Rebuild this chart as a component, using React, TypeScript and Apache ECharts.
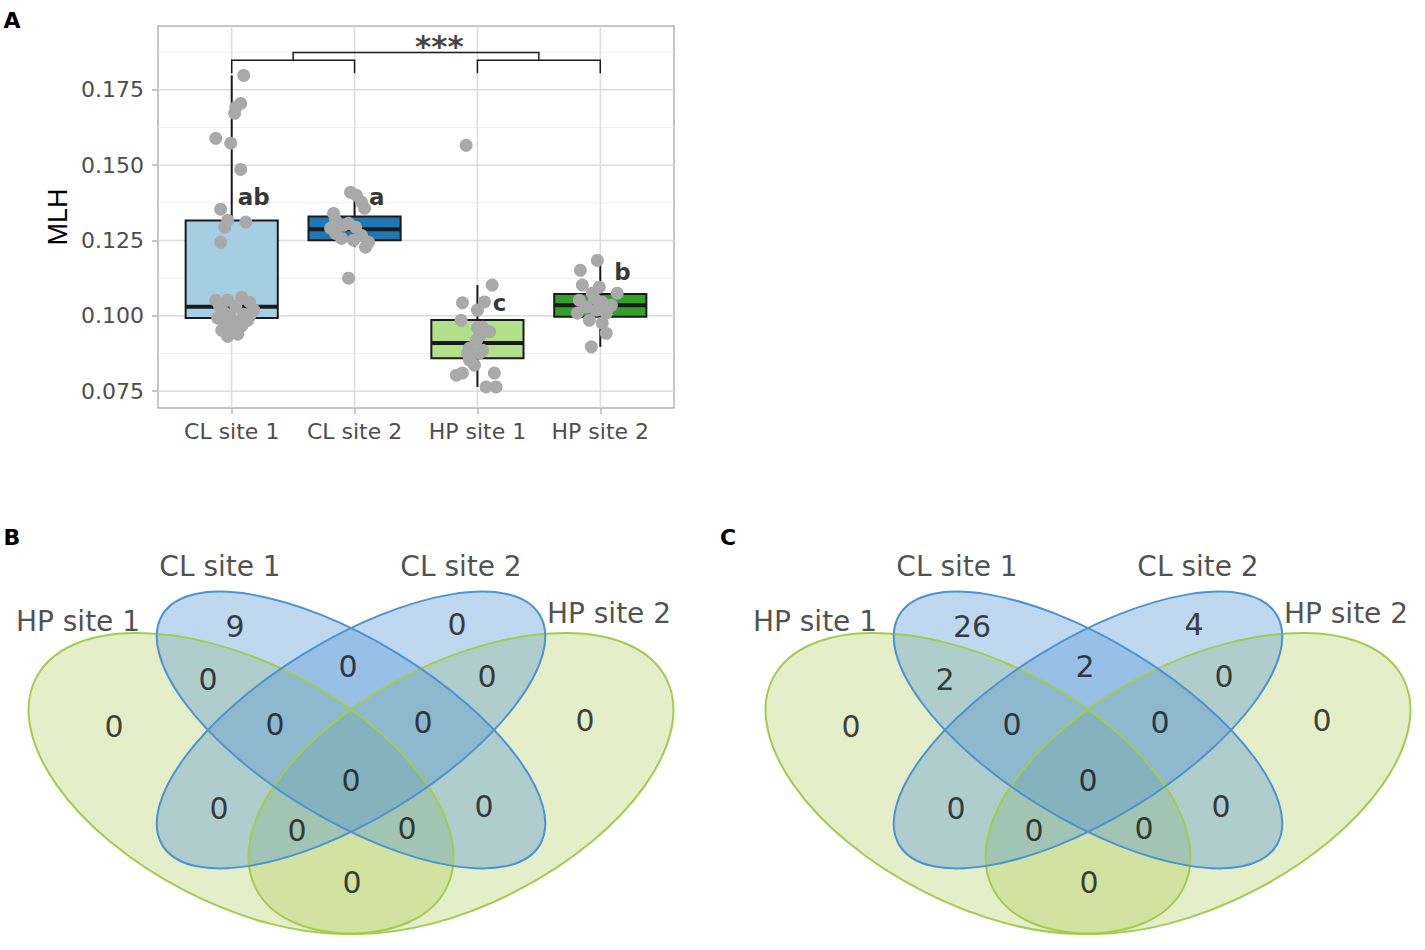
import React, { useEffect, useRef } from "react";
import * as echarts from "echarts";

// ---------- Panel A data ----------
const categories = ["CL site 1", "CL site 2", "HP site 1", "HP site 2"];
const xTickValues = [1, 2, 3, 4];
const yTicks = [0.075, 0.1, 0.125, 0.15, 0.175];
const yMinorTicks = [0.0875, 0.1125, 0.1375, 0.1625, 0.1875];
const boxColors = ["#a6cee3", "#1f78b4", "#b2df8a", "#33a02c"];
// [min, Q1, median, Q3, max]
const boxCL1 = [0.0932, 0.0993, 0.103, 0.1316, 0.1798];
const boxCL2 = [0.1228, 0.1251, 0.1287, 0.133, 0.141];
const boxHP1 = [0.0764, 0.0859, 0.091, 0.0986, 0.1102];
const boxHP2 = [0.0897, 0.0997, 0.1035, 0.1072, 0.1184];

const ptsCL1 = [
  [1.098, 0.1798], [1.073, 0.1705], [1.033, 0.1692], [1.024, 0.1672], [0.87, 0.1589], [0.992, 0.1573],
  [1.073, 0.1486], [0.91, 0.1354], [0.967, 0.1317], [1.114, 0.1311], [0.943, 0.1294], [0.91, 0.1244],
  [1.081, 0.1062], [0.967, 0.1052], [1.146, 0.1045], [0.902, 0.1032], [1.033, 0.1032], [1.179, 0.1019],
  [0.935, 0.1012], [1.098, 0.1005], [0.984, 0.0999], [0.886, 0.0992], [1.13, 0.0985], [1.033, 0.0979],
  [0.951, 0.0969], [1.081, 0.0966], [1.0, 0.0952], [0.919, 0.0952], [1.049, 0.0939], [0.967, 0.0932],
  [1.146, 0.0999], [0.87, 0.1052],
];
const ptsCL2 = [
  [1.967, 0.141], [2.016, 0.14], [2.081, 0.1357], [2.057, 0.1377], [1.829, 0.134], [1.845, 0.1317],
  [1.951, 0.1307], [1.805, 0.1291], [2.008, 0.1294], [1.845, 0.1274], [2.057, 0.1267], [2.114, 0.1244],
  [2.089, 0.1228], [1.894, 0.1257], [1.951, 0.1125], [1.91, 0.1301], [1.992, 0.1251],
];
const ptsHP1 = [
  [2.908, 0.1566], [3.12, 0.1102], [2.878, 0.1043], [3.057, 0.1046], [2.867, 0.0985], [3.0, 0.1019],
  [3.041, 0.0962], [3.098, 0.0947], [2.992, 0.0919], [2.935, 0.0893], [3.016, 0.0876], [2.935, 0.0853],
  [2.976, 0.0836], [2.829, 0.0803], [2.878, 0.081], [3.138, 0.081], [3.071, 0.0764], [3.152, 0.0764],
  [2.919, 0.0876], [3.041, 0.0886], [3.0, 0.096], [3.02, 0.0935],
];
const ptsHP2 = [
  [3.976, 0.1184], [3.838, 0.1151], [3.854, 0.1102], [3.992, 0.1095], [3.935, 0.1075], [4.138, 0.1075],
  [3.829, 0.1052], [4.016, 0.1045], [3.886, 0.1029], [3.967, 0.1019], [4.049, 0.1009], [3.813, 0.1009],
  [3.911, 0.0985], [4.016, 0.0976], [4.049, 0.0942], [3.927, 0.0897], [4.057, 0.1029], [3.951, 0.1058],
  [4.09, 0.1035],
];

const groupLetters = ["ab", "a", "c", "b"];
const letterPos = [[1.18, 0.1394], [2.18, 0.1394], [3.18, 0.1042], [4.18, 0.1145]];
// [x1, x2, yBar, yLegEnd]
const brackets = [[1, 2, 0.1848, 0.1805], [3, 4, 0.1848, 0.1805], [1.5, 3.5, 0.1874, 0.1848]];
const sigLabel = "***";
const sigPos = [2.69, 0.1894];

// ---------- Venn data ----------
const setNames = ["HP site 1", "CL site 1", "CL site 2", "HP site 2"];
const regionNames = [
  "HP1", "CL1", "CL2", "HP2", "HP1∩CL1", "CL1∩CL2", "CL2∩HP2", "HP1∩CL1∩CL2", "CL1∩CL2∩HP2",
  "HP1∩CL1∩CL2∩HP2", "HP1∩CL2", "CL1∩HP2", "HP1∩CL2∩HP2", "HP1∩CL1∩HP2", "HP1∩HP2",
];
const countsB = [0, 9, 0, 0, 0, 0, 0, 0, 0, 0, 0, 0, 0, 0, 0];
const countsC = [0, 26, 4, 0, 2, 2, 0, 0, 0, 0, 0, 0, 0, 0, 0];

// ---------- Venn layout (pixels, panel B frame) ----------
const vennOffsets = [0, 737];
const regionPos = [
  [114, 726], [235, 626], [457, 624], [585, 720], [208, 679], [348, 666], [487, 676], [275, 724],
  [423, 722], [351, 780], [219, 808], [484, 806], [297, 830], [407, 828], [352, 882],
];
const setLabelPos = [[78, 621], [220, 566], [461, 566], [609, 613]];
// cx, cy, rx, ry, rotation(deg), kind (0 green, 1 blue)
const vennShapes = [
  [241, 783.5, 230.5, 121, -27.1, 0],
  [461, 783.5, 230.5, 121, 27.1, 0],
  [351, 730, 221, 89.6, -31.5, 1],
  [351, 730, 221, 89.6, 31.5, 1],
];
const vennFill = ["rgba(165,198,72,0.3)", "rgba(80,148,210,0.36)"];
const vennStroke = ["#a2cc4f", "#4a94d4"];

const FONT = "DejaVu Sans";

export default function App() {
  const ref = useRef<HTMLDivElement>(null);
  useEffect(() => {
    if (!ref.current) return;
    const chart = echarts.init(ref.current, undefined, { renderer: "svg" });
    const boxes = [boxCL1, boxCL2, boxHP1, boxHP2].map((b, i) => [xTickValues[i], ...b]);
    const allPts = [...ptsCL1, ...ptsCL2, ...ptsHP1, ...ptsHP2];
    const gridH = [...yTicks.map((v) => [v, 1]), ...yMinorTicks.map((v) => [v, 0])];
    const gridV = xTickValues.map((v) => [v, 0.1]);

    const vennItems: number[][] = [];
    vennOffsets.forEach((_, p) => [0, 1, 2, 3].forEach((s) => vennItems.push([p, s])));
    const countData: number[][] = [];
    const countText: string[] = [];
    [countsB, countsC].forEach((counts, p) => {
      counts.forEach((c, r) => {
        countData.push([regionPos[r][0] + vennOffsets[p], regionPos[r][1]]);
        countText.push(String(c));
      });
    });
    const setData: number[][] = [];
    const setText: string[] = [];
    vennOffsets.forEach((ox) => {
      setNames.forEach((n, i) => {
        setData.push([setLabelPos[i][0] + ox, setLabelPos[i][1]]);
        setText.push(n);
      });
    });

    const ellipseRender = (strokeOnly: boolean) => (params: any, api: any) => {
      const p = api.value(0);
      const s = api.value(1);
      const e = vennShapes[s];
      const c = api.coord([e[0] + vennOffsets[p], e[1]]);
      const rx = api.size([e[2], 0])[0];
      const ry = api.size([0, e[3]])[1];
      return {
        type: "ellipse",
        x: c[0],
        y: c[1],
        rotation: (e[4] * Math.PI) / 180,
        shape: { cx: 0, cy: 0, rx, ry },
        style: strokeOnly
          ? { fill: "none", stroke: vennStroke[e[5]], lineWidth: 2 }
          : { fill: vennFill[e[5]], stroke: "none" },
      };
    };

    const option: any = {
      animation: false,
      backgroundColor: "#ffffff",
      grid: [
        { left: 158, top: 26, width: 516, height: 382, show: true, borderColor: "#b3b3b3", borderWidth: 1.5, backgroundColor: "rgba(0,0,0,0)" },
        { left: 0, top: 0, width: 1425, height: 950, show: false },
      ],
      xAxis: [
        {
          type: "value", gridIndex: 0, min: 0.4, max: 4.6,
          axisLine: { show: false },
          axisTick: { show: true, customValues: xTickValues, length: 6, lineStyle: { color: "#b3b3b3", width: 1.5 } },
          axisLabel: {
            customValues: xTickValues, margin: 12, color: "#4d4d4d", fontSize: 22, fontFamily: FONT,
            formatter: (v: number) => categories[Math.round(v) - 1] ?? "",
          },
          splitLine: { show: false },
        },
        { type: "value", gridIndex: 1, min: 0, max: 1425, show: false },
      ],
      yAxis: [
        {
          type: "value", gridIndex: 0, min: 0.0694, max: 0.1962,
          name: "MLH", nameLocation: "middle", nameGap: 87, nameRotate: 90,
          nameTextStyle: { fontSize: 27, color: "#000", fontFamily: "Liberation Sans" },
          axisLine: { show: false },
          axisTick: { show: true, customValues: yTicks, length: 6, lineStyle: { color: "#b3b3b3", width: 1.5 } },
          axisLabel: {
            customValues: yTicks, margin: 14, color: "#4d4d4d", fontSize: 22, fontFamily: FONT,
            formatter: (v: number) => v.toFixed(3),
          },
          splitLine: { show: false },
        },
        { type: "value", gridIndex: 1, min: 0, max: 950, inverse: true, show: false },
      ],
      graphic: [
        { type: "text", x: 12, y: 20, style: { text: "A", align: "center", verticalAlign: "middle", fontSize: 22, fontWeight: "bold", fontFamily: FONT, fill: "#000" } },
        { type: "text", x: 12, y: 537, style: { text: "B", align: "center", verticalAlign: "middle", fontSize: 22, fontWeight: "bold", fontFamily: FONT, fill: "#000" } },
        { type: "text", x: 728, y: 537, style: { text: "C", align: "center", verticalAlign: "middle", fontSize: 22, fontWeight: "bold", fontFamily: FONT, fill: "#000" } },
      ],
      series: [
        {
          type: "custom", xAxisIndex: 0, yAxisIndex: 0, z: 1, silent: true, data: gridH,
          renderItem: (params: any, api: any) => {
            const v = api.value(0);
            const major = api.value(1) > 0.5;
            const a = api.coord([0.4, v]);
            const b = api.coord([4.6, v]);
            return { type: "line", shape: { x1: a[0], y1: a[1], x2: b[0], y2: b[1] }, style: { stroke: major ? "#dcdcdc" : "#ececec", lineWidth: major ? 1.5 : 1 } };
          },
        },
        {
          type: "custom", xAxisIndex: 0, yAxisIndex: 0, z: 1, silent: true, data: gridV,
          renderItem: (params: any, api: any) => {
            const v = api.value(0);
            const a = api.coord([v, 0.0694]);
            const b = api.coord([v, 0.1962]);
            return { type: "line", shape: { x1: a[0], y1: a[1], x2: b[0], y2: b[1] }, style: { stroke: "#dcdcdc", lineWidth: 1.5 } };
          },
        },
        {
          type: "custom", xAxisIndex: 0, yAxisIndex: 0, z: 2, silent: true, data: boxes,
          renderItem: (params: any, api: any) => {
            const x = api.value(0);
            const lo = api.coord([x, api.value(1)]);
            const q1 = api.coord([x, api.value(2)]);
            const med = api.coord([x, api.value(3)]);
            const q3 = api.coord([x, api.value(4)]);
            const hi = api.coord([x, api.value(5)]);
            const w = api.size([0.75, 0])[0];
            const cx = q1[0];
            const st = { stroke: "#1a1a1a", lineWidth: 2 };
            return {
              type: "group",
              children: [
                { type: "line", shape: { x1: cx, y1: q3[1], x2: cx, y2: hi[1] }, style: st },
                { type: "line", shape: { x1: cx, y1: q1[1], x2: cx, y2: lo[1] }, style: st },
                { type: "rect", shape: { x: cx - w / 2, y: q3[1], width: w, height: q1[1] - q3[1] }, style: { fill: boxColors[params.dataIndex], stroke: "#1a1a1a", lineWidth: 2 } },
                { type: "line", shape: { x1: cx - w / 2, y1: med[1], x2: cx + w / 2, y2: med[1] }, style: { stroke: "#1a1a1a", lineWidth: 4 } },
              ],
            };
          },
        },
        {
          type: "scatter", xAxisIndex: 0, yAxisIndex: 0, z: 3, silent: true, data: allPts,
          symbolSize: 13, itemStyle: { color: "#a9a9a9", opacity: 1 },
        },
        {
          type: "custom", xAxisIndex: 0, yAxisIndex: 0, z: 4, silent: true, data: brackets, clip: false,
          renderItem: (params: any, api: any) => {
            const a = api.coord([api.value(0), api.value(3)]);
            const b = api.coord([api.value(0), api.value(2)]);
            const c = api.coord([api.value(1), api.value(2)]);
            const d = api.coord([api.value(1), api.value(3)]);
            return { type: "polyline", shape: { points: [a, b, c, d] }, style: { fill: "none", stroke: "#1a1a1a", lineWidth: 1.5 } };
          },
        },
        {
          type: "scatter", xAxisIndex: 0, yAxisIndex: 0, z: 5, silent: true, data: letterPos,
          symbolSize: 1, itemStyle: { color: "rgba(0,0,0,0)" },
          label: { show: true, position: "inside", formatter: (p: any) => groupLetters[p.dataIndex], fontSize: 23, fontWeight: "bold", fontFamily: FONT, color: "#000" },
        },
        {
          type: "scatter", xAxisIndex: 0, yAxisIndex: 0, z: 5, silent: true, data: [sigPos],
          symbolSize: 1, itemStyle: { color: "rgba(0,0,0,0)" },
          label: { show: true, position: "inside", formatter: sigLabel, fontSize: 31, fontWeight: "bold", fontFamily: FONT, color: "#111" },
        },
        // Venn diagrams
        {
          type: "custom", xAxisIndex: 1, yAxisIndex: 1, z: 1, silent: true, data: vennItems,
          renderItem: ellipseRender(false),
        },
        {
          type: "custom", xAxisIndex: 1, yAxisIndex: 1, z: 2, silent: true, data: vennItems,
          renderItem: ellipseRender(true),
        },
        {
          type: "scatter", xAxisIndex: 1, yAxisIndex: 1, z: 3, silent: true, data: countData,
          symbolSize: 1, itemStyle: { color: "rgba(0,0,0,0)" },
          label: { show: true, position: "inside", formatter: (p: any) => countText[p.dataIndex], fontSize: 30, fontFamily: FONT, color: "#111" },
        },
        {
          type: "scatter", xAxisIndex: 1, yAxisIndex: 1, z: 3, silent: true, data: setData,
          symbolSize: 1, itemStyle: { color: "rgba(0,0,0,0)" },
          label: { show: true, position: "inside", formatter: (p: any) => setText[p.dataIndex], fontSize: 28, fontFamily: FONT, color: "#222" },
        },
      ],
    };
    chart.setOption(option);
    return () => chart.dispose();
  }, []);
  return <div ref={ref} style={{ position: "absolute", left: 0, top: 0, width: 1425, height: 950 }} />;
}
